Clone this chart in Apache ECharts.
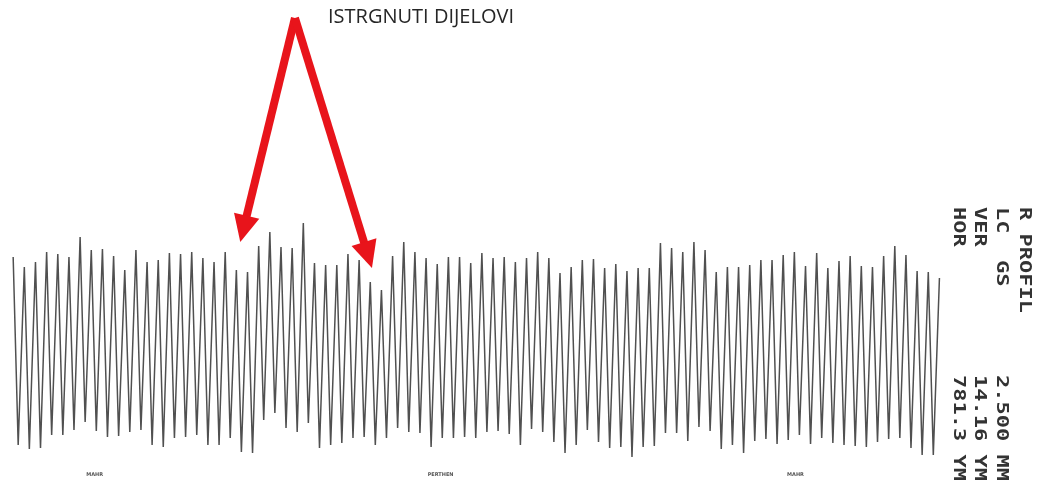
<!DOCTYPE html>
<html>
<head>
<meta charset="utf-8">
<script src="https://cdn.jsdelivr.net/npm/echarts@6/dist/echarts.min.js"></script>
<style>
html,body{margin:0;padding:0;background:#fff;}
#chart{width:1052px;height:488px;}
</style>
</head>
<body>
<div id="chart"></div>
<script>
// Profile peak heights (one per groove, left to right), relative units
const peaks = [203,193,198,208,206,203,223,210,211,204,190,210,198,200,207,206,208,202,198,208,
  190,188,214,228,213,212,237,197,195,195,206,200,178,170,204,218,208,202,196,203,
  203,197,207,202,203,198,202,208,202,187,193,200,201,192,196,189,192,192,217,212,
  208,218,210,188,193,193,195,200,200,205,208,194,207,192,199,204,194,193,204,214,
  205,189,188,182];
// Valley depths following each peak
const troughs = [15,11,12,25,25,30,38,29,23,24,28,30,15,13,22,23,25,15,15,22,
  8,7,40,47,32,28,37,12,15,17,22,23,15,22,32,28,27,13,22,22,
  23,22,28,29,26,15,31,28,18,7,15,30,18,12,13,3,13,14,27,27,
  19,33,29,11,15,7,19,21,16,20,25,16,22,17,15,14,13,18,21,22,
  12,5,5];
// position of a valley within one groove period (peak at 0, next peak at 1)
const troughPhase = 0.45;

// Right-hand instrument legend (rotated)
const legendHead = ["R PROFIL", "LC  GS", "VER", "HOR"];
const legendVals = ["", "2.500 MM", "14.16 YM", "781.3 YM"];
const footLabels = ["MAHR", "PERTHEN", "MAHR"];
const footPos = [8.3, 39.3, 71.1]; // groove index under each footer label
const annotationText = "ISTRGNUTI DIJELOVI";
// arrow anchors in data coordinates: apex, left tip, right tip
const arrowApex = [26.25, 442];
const arrowTips = [[21.35, 218], [33.15, 192]];

const profile = [];
for (let k = 1; k <= peaks.length; k++) {
  profile.push([k, peaks[k - 1]]);
  if (k <= troughs.length) profile.push([k + troughPhase, troughs[k - 1]]);
}

const chart = echarts.init(document.getElementById('chart'), null, {renderer: 'canvas'});
const option = {
  animation: false,
  backgroundColor: '#ffffff',
  grid: {left: 2, top: 210, width: 948.6, height: 250, containLabel: false},
  xAxis: {type: 'value', min: 0, max: 85, show: false},
  yAxis: {type: 'value', min: 0, max: 250, show: false},
  series: [{
    type: 'line',
    data: profile,
    showSymbol: false,
    symbol: 'none',
    lineStyle: {color: '#505050', width: 1.5},
    z: 2
  }]
};
chart.setOption(option);

function px(p) { return chart.convertToPixel({gridIndex: 0}, p); }

const graphics = [];
// title annotation
graphics.push({
  type: 'text', left: 328, top: 7,
  style: {text: annotationText, font: '20px "Open Sans"', fill: '#262626'}
});
// arrows
const apex = px(arrowApex);
arrowTips.forEach(function (t) {
  const tip = px(t);
  const dx = tip[0] - apex[0], dy = tip[1] - apex[1];
  const len = Math.sqrt(dx * dx + dy * dy);
  const ux = dx / len, uy = dy / len;
  const headL = 27, headW = 13;
  const bx = tip[0] - ux * headL, by = tip[1] - uy * headL;
  graphics.push({
    type: 'line', z: 10,
    shape: {x1: apex[0], y1: apex[1], x2: bx + ux * 2, y2: by + uy * 2},
    style: {stroke: '#e8141b', lineWidth: 8, lineCap: 'butt'}
  });
  graphics.push({
    type: 'polygon', z: 10,
    shape: {points: [[tip[0], tip[1]], [bx - uy * headW, by + ux * headW], [bx + uy * headW, by - ux * headW]]},
    style: {fill: '#e8141b'}
  });
});
// rotated legend on the right
const colX = [1024, 1001, 979, 958];
legendHead.forEach(function (s, i) {
  graphics.push({
    type: 'text', x: colX[i], y: 207, rotation: -Math.PI / 2, scaleY: 0.68,
    style: {text: s, font: 'bold 22px "DejaVu Sans Mono"', fill: '#333333', align: 'left', verticalAlign: 'middle'}
  });
  if (legendVals[i]) {
    graphics.push({
      type: 'text', x: colX[i], y: 375, rotation: -Math.PI / 2, scaleY: 0.68,
      style: {text: legendVals[i], font: 'bold 22px "DejaVu Sans Mono"', fill: '#333333', align: 'left', verticalAlign: 'middle'}
    });
  }
});
// tiny footer labels
footLabels.forEach(function (s, i) {
  const p = px([footPos[i], 0]);
  graphics.push({
    type: 'text', x: p[0], y: 475,
    style: {text: s, font: 'bold 5px "DejaVu Sans"', fill: '#555', align: 'center', verticalAlign: 'middle'}
  });
});
chart.setOption({graphic: graphics});
</script>
</body>
</html>
